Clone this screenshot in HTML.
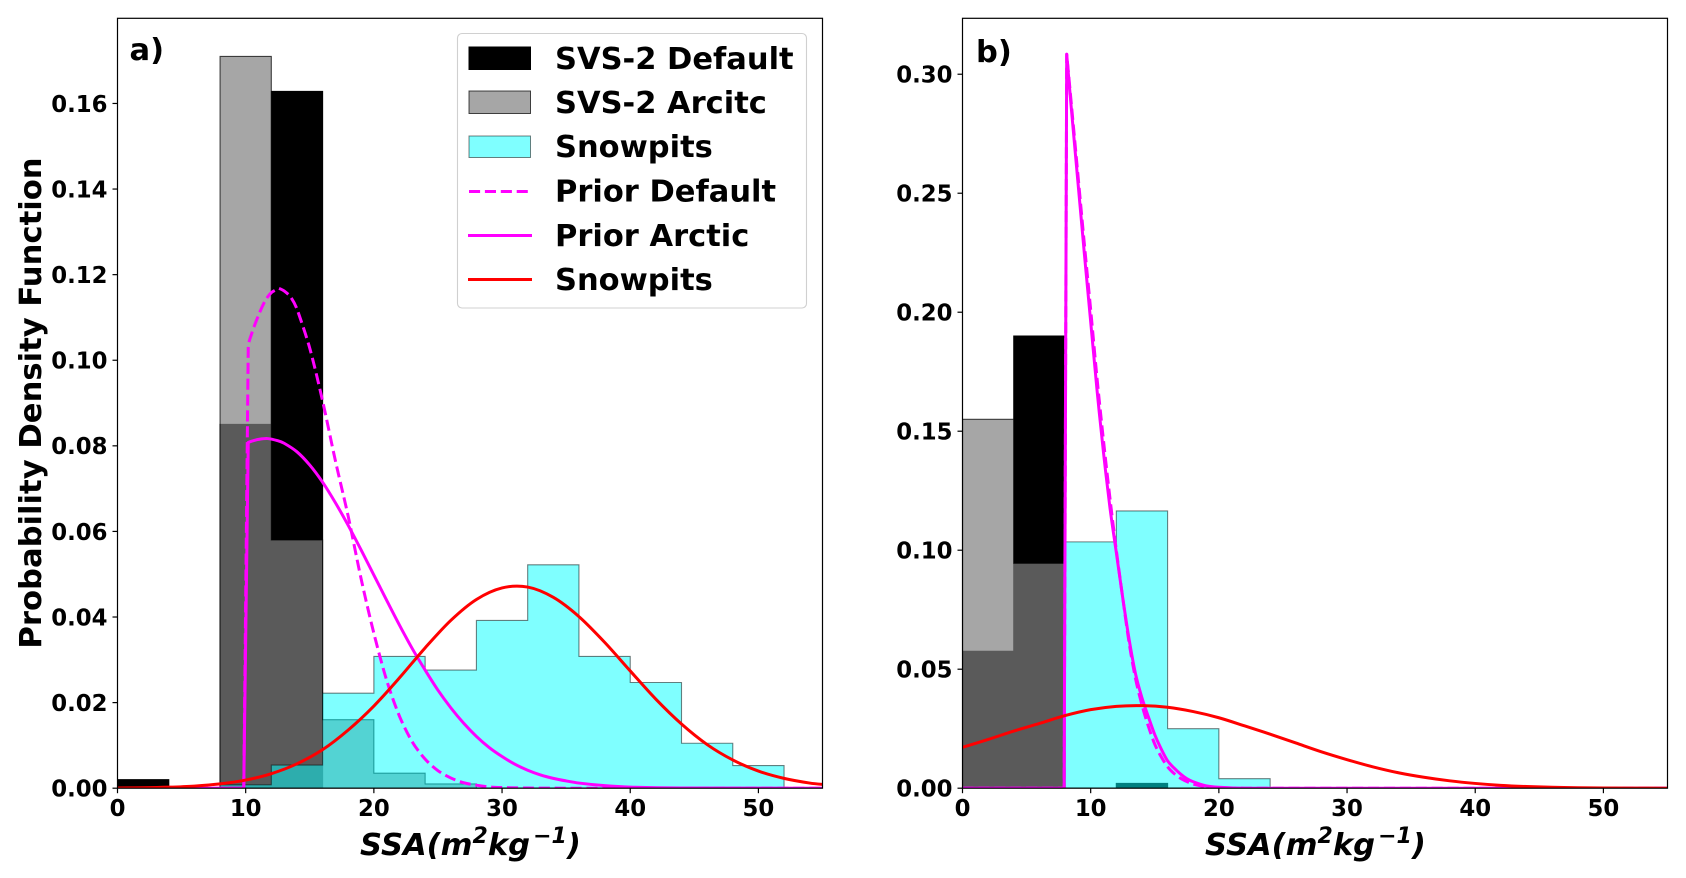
<!DOCTYPE html>
<html>
<head>
<meta charset="utf-8">
<title>SSA probability density</title>
<style>
html,body{margin:0;padding:0;background:#fff;}
svg{display:block;}
text{font-family:"DejaVu Sans","Liberation Sans",sans-serif;font-weight:bold;fill:#000;}
</style>
</head>
<body>
<svg id="chart" xmlns="http://www.w3.org/2000/svg" width="1686" height="878" viewBox="0 0 1686 878">
  <rect width="1686" height="878" fill="#fff"/>
  <defs>
    <clipPath id="clipA"><rect x="117.5" y="18.3" width="705" height="770"/></clipPath>
    <clipPath id="clipB"><rect x="962.5" y="18.3" width="705" height="770"/></clipPath>
  </defs>
  <g id="panelA"></g>
  <g id="panelB"></g>

  <text x="129.5" y="60" font-size="30.5">a)</text>
  <text x="976" y="62" font-size="30.5">b)</text>

  <text transform="translate(41,403) rotate(-90)" text-anchor="middle" font-size="30.65">Probability Density Function</text>
  <text x="360" y="855" font-size="30.6" font-style="italic">SSA(m<tspan dy="-12" font-size="22">2</tspan><tspan dy="12">kg</tspan><tspan dy="-12" font-size="22" dx="3">−1</tspan><tspan dy="12">)</tspan></text>
  <text x="1205" y="855" font-size="30.6" font-style="italic">SSA(m<tspan dy="-12" font-size="22">2</tspan><tspan dy="12">kg</tspan><tspan dy="-12" font-size="22" dx="3">−1</tspan><tspan dy="12">)</tspan></text>

  <g>
    <rect x="457.5" y="33.5" width="349" height="274.5" rx="4.5" ry="4.5" fill="#fff" fill-opacity="0.8" stroke="#d0d0d0" stroke-width="1.1"/>
    <rect x="469" y="47" width="61.5" height="22.5" fill="#000" stroke="#000" stroke-width="1"/>
    <rect x="469" y="91" width="61.5" height="22.5" fill="#808080" fill-opacity="0.7" stroke="#000" stroke-opacity="0.7" stroke-width="1"/>
    <rect x="469" y="136" width="61.5" height="21.5" fill="#00ffff" fill-opacity="0.5" stroke="#000" stroke-opacity="0.5" stroke-width="1"/>
    <line x1="469" y1="191.5" x2="531" y2="191.5" stroke="#ff00ff" stroke-width="3" stroke-dasharray="11.1,4.8"/>
    <line x1="468" y1="235.5" x2="532" y2="235.5" stroke="#ff00ff" stroke-width="3"/>
    <line x1="468" y1="279.5" x2="532" y2="279.5" stroke="#ff0000" stroke-width="3"/>
    <text x="555" y="69" font-size="30.5">SVS-2 Default</text>
    <text x="555" y="113" font-size="30.5">SVS-2 Arcitc</text>
    <text x="555" y="157" font-size="30.5">Snowpits</text>
    <text x="555" y="201.5" font-size="30.5">Prior Default</text>
    <text x="555" y="246" font-size="30.5">Prior Arctic</text>
    <text x="555" y="290" font-size="30.5">Snowpits</text>
  </g>
</svg>
<script>
// ---- shared axis data ----
const binEdges = [0,4,8,12,16,20,24,28,32,36,40,44,48,52];
const xTickValues = [0,10,20,30,40,50];
const xTickLabels = ["0","10","20","30","40","50"];
const aYTickValues = [0,0.02,0.04,0.06,0.08,0.10,0.12,0.14,0.16];
const aYTickLabels = ["0.00","0.02","0.04","0.06","0.08","0.10","0.12","0.14","0.16"];
const bYTickValues = [0,0.05,0.10,0.15,0.20,0.25,0.30];
const bYTickLabels = ["0.00","0.05","0.10","0.15","0.20","0.25","0.30"];
const xLimit = [0,55];
const aYLimit = [0,0.1799];
const bYLimit = [0,0.3235];

// ---- panel a histograms ----
const aDefaultHist = [0.002,0,0.085,0.1628,0,0,0,0,0,0,0,0,0];
const aArcticHist = [0,0,0.171,0.058,0.016,0.0035,0.001,0,0,0,0,0,0];
const aSnowpitHist = [0,0,0.0008,0.0054,0.0222,0.0308,0.0276,0.0392,0.0522,0.0308,0.0247,0.0105,0.0053];

// ---- panel a curves ----
const aPriorDefaultX = [0,9.85,10.2,10.5,11,11.5,12,12.6,13,13.5,14,15,16,17,18,19,20,21,22,23,24,25,26,27,28,29,30,32,35,55];
const aPriorDefaultY = [0,0,0.103,0.1065,0.1105,0.1138,0.1158,0.1168,0.1162,0.1148,0.112,0.1028,0.0905,0.0765,0.0635,0.049,0.0362,0.0252,0.0168,0.0108,0.0068,0.0041,0.0024,0.0013,0.0007,0.0003,0.00015,0.00004,0,0];
const aPriorArcticX = [0,9.85,10.2,10.6,11,11.7,12.5,13,14,15,16,17,18,19,20,21,22,23,24,25,26,27,28,29,30,31,32,33,34,35,36,38,40,44,55];
const aPriorArcticY = [0,0,0.0808,0.0812,0.0815,0.0817,0.0812,0.0806,0.0786,0.0755,0.0715,0.0667,0.0614,0.0557,0.0498,0.0439,0.0381,0.0326,0.0276,0.0229,0.0188,0.0152,0.0121,0.0095,0.0074,0.0056,0.0042,0.0031,0.0023,0.0017,0.0012,0.0006,0.00026,0.00005,0];
const aSnowpitCurveX = [0,2,4,6,8,10,12,14,16,18,20,22,24,26,28,30,32,34,36,38,40,42,44,46,48,50,52,54,55];
const aSnowpitCurveY = [0.00005,0.0001,0.00024,0.0005,0.001,0.0019,0.0034,0.0057,0.009,0.0136,0.0192,0.0258,0.0328,0.0392,0.0441,0.0468,0.047,0.0446,0.0401,0.0341,0.0274,0.0208,0.015,0.0102,0.0066,0.004,0.0023,0.0012,0.0009];

// ---- panel b histograms ----
const bDefaultHist = [0.0575,0.19,0,0.002,0,0,0,0,0,0,0,0,0];
const bArcticHist = [0.155,0.0945,0,0,0,0,0,0,0,0,0,0,0];
const bSnowpitHist = [0,0,0.1035,0.1165,0.025,0.004,0,0,0,0,0,0,0];

// ---- panel b curves ----
const bPriorDefaultX = [0,7.93,8.13,8.5,9,9.5,10,10.5,11,11.5,12,12.5,13,13.5,14,14.5,15,15.5,16,16.5,17,17.5,18,19,20,22,55];
const bPriorDefaultY = [0,0,0.3084,0.287,0.258,0.229,0.201,0.172,0.146,0.122,0.1,0.08,0.061,0.046,0.035,0.026,0.0185,0.0132,0.009,0.0062,0.0042,0.0028,0.0017,0.0006,0.0002,0,0];
const bPriorArcticX = [0,7.93,8.13,8.5,9,9.5,10,10.5,11,11.5,12,12.5,13,13.5,14,14.5,15,15.5,16,16.5,17,17.5,18,19,20,22,55];
const bPriorArcticY = [0,0,0.3084,0.285,0.255,0.225,0.196,0.167,0.141,0.118,0.099,0.08,0.0625,0.048,0.038,0.03,0.0225,0.0165,0.0115,0.0085,0.006,0.004,0.0027,0.001,0.0004,0,0];
const bSnowpitCurveX = [0,2,4,6,8,10,12,14,16,18,20,22,24,26,28,30,32,34,36,38,40,42,44,46,48,50,55];
const bSnowpitCurveY = [0.0172,0.0205,0.024,0.0272,0.0305,0.033,0.0344,0.0347,0.034,0.0322,0.0296,0.0262,0.0227,0.019,0.0153,0.012,0.009,0.0065,0.0046,0.0031,0.002,0.0012,0.0007,0.0004,0.0002,0.0001,0];

const SVGNS = "http://www.w3.org/2000/svg";
function make(tag, attrs, parent){
  const el = document.createElementNS(SVGNS, tag);
  for (const k in attrs) el.setAttribute(k, attrs[k]);
  parent.appendChild(el);
  return el;
}
function smoothPath(pts){
  const tangents = pts.map((p,i)=>{
    if (i===0 || i===pts.length-1) return [0,0];
    const a = pts[i-1], b = pts[i+1];
    const a1 = Math.atan2(p[1]-a[1], p[0]-a[0]);
    const a2 = Math.atan2(b[1]-p[1], b[0]-p[0]);
    let diff = Math.abs(a1-a2);
    if (diff > Math.PI) diff = 2*Math.PI-diff;
    if (diff > 0.6) return [0,0];
    const len1 = Math.hypot(p[0]-a[0],p[1]-a[1]);
    const len2 = Math.hypot(b[0]-p[0],b[1]-p[1]);
    const dx = b[0]-a[0], dy = b[1]-a[1], n = Math.hypot(dx,dy)||1;
    const h = Math.min(len1,len2)/3;
    return [dx/n*h,dy/n*h];
  });
  let d = "M"+pts[0][0].toFixed(2)+" "+pts[0][1].toFixed(2);
  for (let i=1;i<pts.length;i++){
    const p0=pts[i-1], p1=pts[i], t0=tangents[i-1], t1=tangents[i];
    d += "C"+(p0[0]+t0[0]).toFixed(2)+" "+(p0[1]+t0[1]).toFixed(2)+" "+(p1[0]-t1[0]).toFixed(2)+" "+(p1[1]-t1[1]).toFixed(2)+" "+p1[0].toFixed(2)+" "+p1[1].toFixed(2);
  }
  return d;
}

function drawPanel(cfg){
  const g = document.getElementById(cfg.id);
  const L = cfg.left, R = cfg.left+705, T = 18.3, B = 788.2;
  const xScale = v => L + (v-xLimit[0])/(xLimit[1]-xLimit[0])*(R-L);
  const yScale = v => B - (v-cfg.yLimit[0])/(cfg.yLimit[1]-cfg.yLimit[0])*(B-T);
  const plot = make("g",{"clip-path":"url(#"+cfg.clip+")"},g);
  
  

  cfg.hists.forEach(h=>{
    let d = "M"+xScale(binEdges[0]).toFixed(2)+" "+yScale(0).toFixed(2);
    h.values.forEach((v,i)=>{
      d += "L"+xScale(binEdges[i]).toFixed(2)+" "+yScale(v).toFixed(2);
      d += "L"+xScale(binEdges[i+1]).toFixed(2)+" "+yScale(v).toFixed(2);
    });
    d += "L"+xScale(binEdges[binEdges.length-1]).toFixed(2)+" "+yScale(0).toFixed(2)+"Z";
    const path = make("path",{d:d,fill:h.fill,"fill-opacity":h.alpha,stroke:"#000","stroke-opacity":h.alpha,"stroke-width":1.1,"stroke-linejoin":"miter"},plot);
    
    
  });

  cfg.lines.forEach(l=>{
    const pts = l.x.map((v,i)=>[xScale(v),yScale(l.y[i])]);
    const attrs = {d:smoothPath(pts),fill:"none",stroke:l.color,"stroke-width":3,"stroke-linejoin":"round"};
    if (l.dash) attrs["stroke-dasharray"] = l.dash;
    const path = make("path",attrs,plot);
    
    
  });

  const frame = make("rect",{x:L,y:T,width:R-L,height:B-T,fill:"none",stroke:"#000","stroke-width":1.2},g);
  
  

  xTickValues.forEach((v,i)=>{
    const x = xScale(v);
    const tick = make("line",{x1:x,x2:x,y1:B,y2:B+5,stroke:"#000","stroke-width":1.2},g);
    
    
    const label = make("text",{x:x,y:816,"text-anchor":"middle","font-size":22.8},g);
    
    
    label.textContent = xTickLabels[i];
  });
  cfg.yTicks.forEach((v,i)=>{
    const y = yScale(v);
    const tick = make("line",{x1:L-5,x2:L,y1:y,y2:y,stroke:"#000","stroke-width":1.2},g);
    
    
    const label = make("text",{x:L-10,y:y+8.4,"text-anchor":"end","font-size":22.8},g);
    
    
    label.textContent = cfg.yLabels[i];
  });
}

drawPanel({
  id:"panelA", clip:"clipA", left:117.5, yLimit:aYLimit, yTicks:aYTickValues, yLabels:aYTickLabels,
  hists:[
    {name:"hist-svs2-default",values:aDefaultHist,fill:"#000000",alpha:1},
    {name:"hist-svs2-arctic",values:aArcticHist,fill:"#808080",alpha:0.7},
    {name:"hist-snowpits",values:aSnowpitHist,fill:"#00ffff",alpha:0.5}
  ],
  lines:[
    {name:"curve-prior-default",x:aPriorDefaultX,y:aPriorDefaultY,color:"#ff00ff",dash:"11.1,4.8"},
    {name:"curve-prior-arctic",x:aPriorArcticX,y:aPriorArcticY,color:"#ff00ff"},
    {name:"curve-snowpits",x:aSnowpitCurveX,y:aSnowpitCurveY,color:"#ff0000"}
  ]
});
drawPanel({
  id:"panelB", clip:"clipB", left:962.5, yLimit:bYLimit, yTicks:bYTickValues, yLabels:bYTickLabels,
  hists:[
    {name:"hist-svs2-default",values:bDefaultHist,fill:"#000000",alpha:1},
    {name:"hist-svs2-arctic",values:bArcticHist,fill:"#808080",alpha:0.7},
    {name:"hist-snowpits",values:bSnowpitHist,fill:"#00ffff",alpha:0.5}
  ],
  lines:[
    {name:"curve-prior-default",x:bPriorDefaultX,y:bPriorDefaultY,color:"#ff00ff",dash:"11.1,4.8"},
    {name:"curve-prior-arctic",x:bPriorArcticX,y:bPriorArcticY,color:"#ff00ff"},
    {name:"curve-snowpits",x:bSnowpitCurveX,y:bSnowpitCurveY,color:"#ff0000"}
  ]
});
</script>
</body>
</html>
